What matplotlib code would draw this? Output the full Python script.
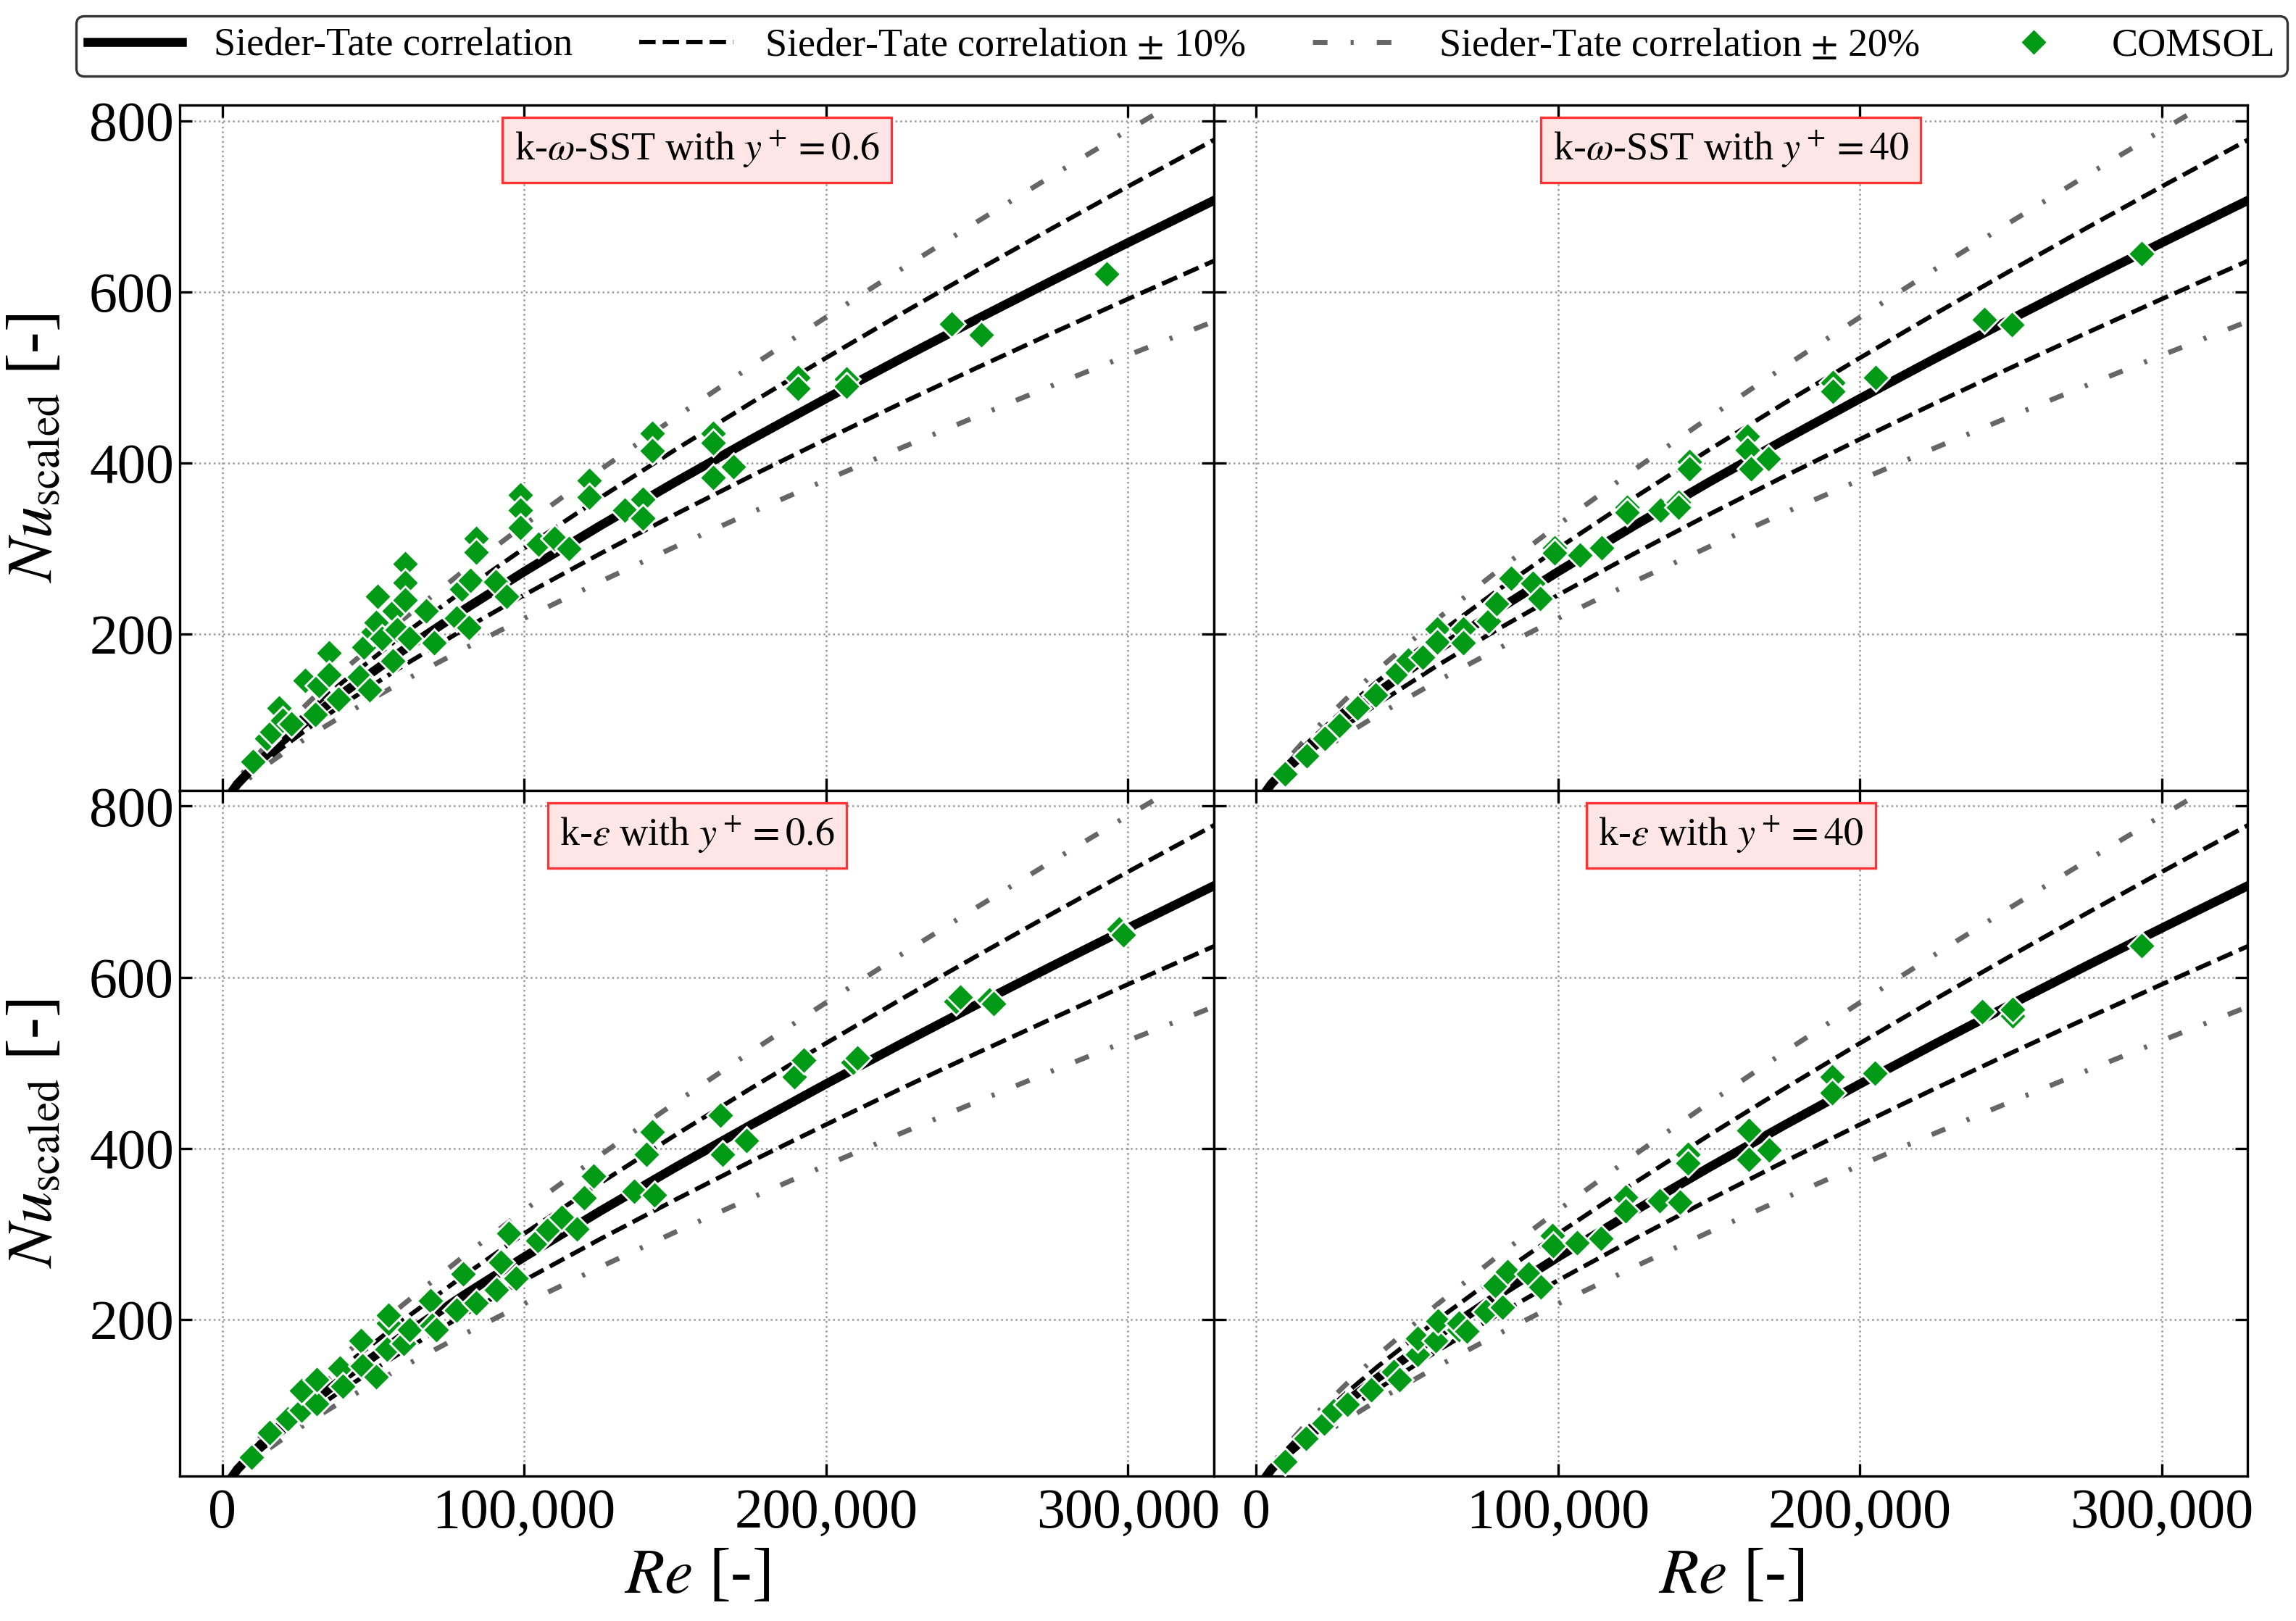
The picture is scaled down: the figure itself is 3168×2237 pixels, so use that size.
import matplotlib
matplotlib.use("Agg")
import numpy as np
import matplotlib.pyplot as plt

plt.rcParams["font.family"] = ["Liberation Serif", "DejaVu Serif"]
plt.rcParams["mathtext.fontset"] = "stix"

# Sieder-Tate correlation
re_curve = [0, 5000, 10000, 15000, 20000, 30000, 40000, 60000, 80000, 100000,
            125000, 150000, 175000, 200000, 225000, 250000, 275000, 300000, 330000]
nu_curve = [0, 24.8, 43.3, 59.9, 75.3, 104.2, 131.2, 181.4, 228.4, 273.0,
            326.3, 377.6, 427.2, 475.3, 522.3, 568.2, 613.2, 657.4, 709.5]

# COMSOL points, one pair of lists per panel
re_sst06 = [10100, 14700, 16500, 18800, 20000, 23000, 27500, 30800, 32000, 35400,
            35400, 38600, 45500, 46800, 48700, 50000, 51000, 51400, 52800, 56500,
            57000, 58000, 60600, 60600, 60600, 62000, 67500, 70200, 77600, 79400,
            81700, 82200, 84000, 84000, 90500, 94100, 98700, 98700, 98700, 104700,
            110000, 114800, 121600, 121600, 133300, 139400, 139400, 142500, 142500, 162600,
            162600, 162600, 169400, 190800, 190800, 206700, 206700, 241600, 251400, 293000]
nu_sst06 = [51, 78, 86, 114, 99, 95, 146, 106, 140, 178,
            153, 124, 150, 185, 135, 203, 214, 244, 195, 169,
            227, 205, 282, 260, 240, 195, 227, 190, 219, 253,
            208, 263, 312, 296, 261, 244, 363, 345, 325, 305,
            312, 300, 380, 360, 345, 358, 336, 435, 414, 435,
            424, 383, 396, 500, 487, 498, 490, 563, 550, 621]

re_sst40 = [9500, 16700, 22700, 27500, 33600, 39600, 46800, 50400, 55200, 60000,
            60000, 68600, 68600, 77000, 79600, 84400, 91600, 94000, 98800, 98800,
            107300, 114500, 122900, 122900, 133800, 139800, 139800, 143400, 143400, 162700,
            162700, 163900, 169800, 191000, 191000, 205200, 241300, 250400, 293400]
nu_sst40 = [37, 58, 78, 93, 114, 129, 155, 170, 173, 206,
            191, 206, 190, 215, 236, 265, 259, 242, 301, 295,
            292, 301, 348, 342, 345, 354, 348, 402, 393, 431,
            415, 393, 405, 494, 484, 500, 568, 562, 645]

re_ke06 = [9600, 15600, 21600, 26200, 26200, 31200, 31200, 39000, 40000, 45900,
           46400, 51000, 54600, 55100, 55100, 60000, 62000, 68900, 69400, 71000,
           77600, 79900, 84000, 90900, 92300, 95000, 97300, 104600, 107900, 112400,
           117500, 119800, 123000, 136400, 140600, 142500, 143100, 165100, 165700, 173600,
           189600, 192600, 209000, 210400, 243000, 244600, 254000, 255600, 297000, 298500]
nu_ke06 = [39, 68, 84, 94, 117, 102, 130, 143, 122, 175,
           146, 133, 165, 196, 205, 172, 188, 222, 193, 188,
           211, 253, 219, 235, 267, 301, 248, 292, 305, 319,
           306, 342, 368, 350, 393, 419, 346, 439, 393, 409,
           484, 503, 501, 506, 572, 577, 573, 569, 656, 650]

re_ke40 = [9600, 16500, 22500, 25700, 30300, 38200, 45500, 47400, 53400, 53400,
           59400, 60300, 67200, 67200, 69700, 76000, 79200, 81500, 83300, 90200,
           94400, 98100, 98300, 106400, 114200, 122500, 122500, 133600, 140500, 143000,
           143000, 163200, 163200, 170000, 190800, 190800, 205000, 240600, 250500, 250500,
           293400]
nu_ke40 = [34, 61, 79, 93, 101, 118, 139, 130, 159, 178,
           175, 198, 188, 196, 186, 209, 240, 214, 256, 253,
           238, 298, 286, 290, 295, 343, 327, 339, 337, 393,
           383, 421, 387, 398, 484, 465, 488, 560, 555, 562,
           637]

panel_labels = [r"k-$\omega$-SST with $y^+=0.6$", r"k-$\omega$-SST with $y^+=40$",
                r"k-$\varepsilon$ with $y^+=0.6$", r"k-$\varepsilon$ with $y^+=40$"]
panel_re = [re_sst06, re_sst40, re_ke06, re_ke40]
panel_nu = [nu_sst06, nu_sst40, nu_ke06, nu_ke40]

x_ticks = [0, 100000, 200000, 300000]
x_ticklabels = ["0", "100,000", "200,000", "300,000"]
y_ticks = [200, 400, 600, 800]

green = "#009a17"
gray = "#666666"
dashdot = (0, (2.9, 4.6, 0.6, 4.6))

fig, axes = plt.subplots(2, 2, figsize=(15.84, 11.185), dpi=200)
fig.subplots_adjust(left=0.0784, right=0.979, top=0.935, bottom=0.0894,
                    wspace=0, hspace=0)

nu_curve = np.array(nu_curve)

for i, ax in enumerate(axes.flat):
    ax.plot(re_curve, nu_curve * 1.2, color=gray, lw=2.5, ls=dashdot,
            label=r"Sieder-Tate correlation $\pm$ 20%")
    ax.plot(re_curve, nu_curve * 0.8, color=gray, lw=2.5, ls=dashdot)
    ax.plot(re_curve, nu_curve * 1.1, color="black", lw=2.2, ls="--",
            label=r"Sieder-Tate correlation $\pm$ 10%")
    ax.plot(re_curve, nu_curve * 0.9, color="black", lw=2.2, ls="--")
    ax.plot(re_curve, nu_curve, color="black", lw=4.5, label="Sieder-Tate correlation")
    ax.plot(panel_re[i], panel_nu[i], ls="none", marker="D", ms=9.5,
            mfc=green, mec="white", mew=1.0, label="COMSOL", zorder=5)

    ax.set_xlim(-14000, 328500)
    ax.set_ylim(17, 818)
    ax.set_xticks(x_ticks)
    ax.set_yticks(y_ticks)
    ax.grid(True, ls=":", color="#999999", lw=0.9)
    ax.set_axisbelow(True)
    ax.tick_params(direction="in", top=True, right=True, length=6, width=1.2,
                   labelsize=28, pad=6)
    ax.tick_params(axis="y", pad=3)
    for sp in ax.spines.values():
        sp.set_linewidth(1.2)

    if i % 2 == 0:
        ax.set_ylabel(r"$Nu_{\mathrm{scaled}}$ [-]", fontsize=32, labelpad=12)
    else:
        ax.tick_params(labelleft=False)
    if i >= 2:
        ax.set_xticklabels(x_ticklabels)
        ax.set_xlabel(r"$Re$ [-]", fontsize=32, labelpad=4)
    else:
        ax.tick_params(labelbottom=False)

    ax.text(0.5, 0.935, panel_labels[i], transform=ax.transAxes, ha="center",
            va="center", fontsize=19.5,
            bbox=dict(boxstyle="square,pad=0.3", fc="#ffe6e6", ec="#ff3333", lw=1.2))

handles, labels = axes[0, 0].get_legend_handles_labels()
order = [2, 1, 0, 3]
leg = fig.legend([handles[k] for k in order], [labels[k] for k in order],
                 loc="lower left", bbox_to_anchor=(0.0332, 0.953, 0.963, 0.0398),
                 mode="expand", ncol=4, fontsize=19.5, numpoints=1, handlelength=2.4,
                 borderaxespad=0, borderpad=0.3, fancybox=True, framealpha=1,
                 edgecolor="#333333")
leg.get_frame().set_linewidth(1.2)

fig.savefig("out.png", dpi=200)
